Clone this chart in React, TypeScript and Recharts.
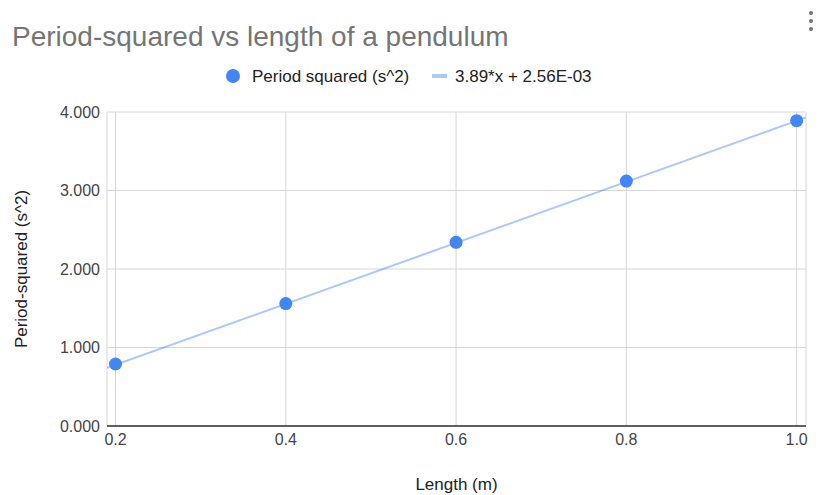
import {
  ComposedChart,
  Line,
  Scatter,
  XAxis,
  YAxis,
  CartesianGrid,
} from "recharts";

// pendulum measurements
const lengths = [0.2, 0.4, 0.6, 0.8, 1.0];
const periodSquared = [0.79, 1.56, 2.34, 3.12, 3.89];

const trendX = [0.19, 1.011];
const trendY = [0.74, 3.93];

const xTicks = [0.2, 0.4, 0.6, 0.8, 1.0];
const yTicks = [0, 1, 2, 3, 4];

const points = lengths.map((x, i) => ({ x, y: periodSquared[i] }));
const trend = trendX.map((x, i) => ({ x, t: trendY[i] }));

const FONT = '"Liberation Sans", Arial, sans-serif';
const BLUE = "#4285f4";

function Dot(props: any) {
  return <circle cx={props.cx} cy={props.cy} r={6.5} fill={BLUE} />;
}

export default function App() {
  return (
    <div style={{ position: "relative", width: 819, height: 495, fontFamily: FONT, background: "#fff" }}>
      <style>{"body{margin:0}"}</style>

      <div style={{ position: "absolute", left: 12, top: 23, fontSize: 28, lineHeight: 1, color: "#757575", whiteSpace: "nowrap" }}>
        Period-squared vs length of a pendulum
      </div>

      <svg style={{ position: "absolute", left: 805, top: 8 }} width={12} height={28}>
        <circle cx={6} cy={5} r={2} fill="#757575" />
        <circle cx={6} cy={13} r={2} fill="#757575" />
        <circle cx={6} cy={21} r={2} fill="#757575" />
      </svg>

      <div style={{ position: "absolute", left: 226, top: 69, width: 14, height: 14, borderRadius: 7, background: BLUE }} />
      <div style={{ position: "absolute", left: 252, top: 68, fontSize: 17, lineHeight: 1, color: "#222", whiteSpace: "nowrap" }}>
        Period squared (s^2)
      </div>
      <div style={{ position: "absolute", left: 432, top: 74, width: 15, height: 4, background: BLUE, opacity: 0.45 }} />
      <div style={{ position: "absolute", left: 455, top: 68, fontSize: 17, lineHeight: 1, color: "#222", whiteSpace: "nowrap" }}>
        3.89*x + 2.56E-03
      </div>

      <ComposedChart
        width={819}
        height={495}
        margin={{ top: 112, right: 13, bottom: 0, left: 0 }}
        style={{ position: "absolute", left: 0, top: 0 }}
      >
        <CartesianGrid stroke="#d6d6d6" strokeWidth={1} />
        <XAxis
          dataKey="x"
          type="number"
          domain={[0.19, 1.011]}
          ticks={xTicks}
          allowDataOverflow
          height={69}
          tickFormatter={(v: number) => v.toFixed(1)}
          tick={{ fontSize: 16, fill: "#444", fontFamily: FONT }}
          tickLine={false}
          axisLine={{ stroke: "#333", strokeWidth: 1.5 }}
          label={{ value: "Length (m)", position: "center", dy: 23, fontSize: 17, fill: "#222", fontFamily: FONT }}
        />
        <YAxis
          type="number"
          domain={[0, 4]}
          ticks={yTicks}
          width={107}
          tickFormatter={(v: number) => v.toFixed(3)}
          tick={{ fontSize: 16, fill: "#444", fontFamily: FONT }}
          tickLine={false}
          axisLine={false}
          tickMargin={1}
          label={{ value: "Period-squared (s^2)", angle: -90, position: "center", dx: -33, fontSize: 17, fill: "#222", fontFamily: FONT }}
        />
        <Line
          data={trend}
          dataKey="t"
          type="linear"
          stroke={BLUE}
          strokeOpacity={0.45}
          strokeWidth={2}
          dot={false}
          activeDot={false}
          isAnimationActive={false}
        />
        <Scatter data={points} dataKey="y" shape={Dot} isAnimationActive={false} />
      </ComposedChart>
    </div>
  );
}
